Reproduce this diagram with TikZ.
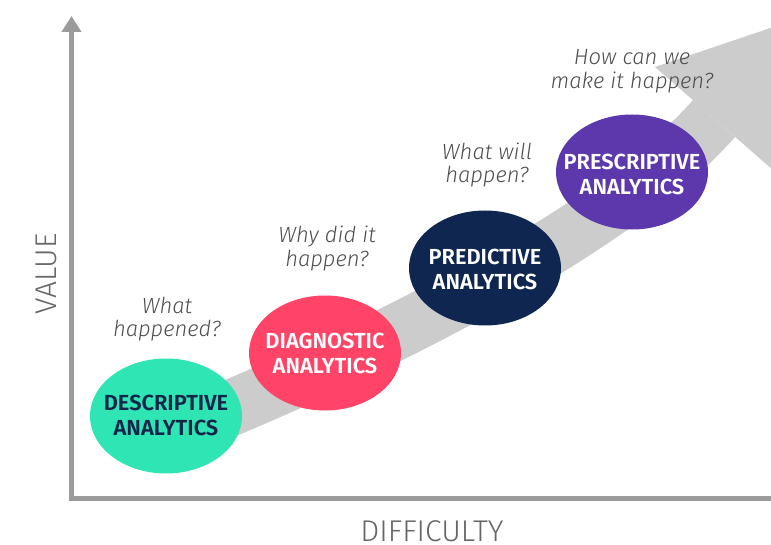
\documentclass[tikz,border=0pt]{standalone}
\usepackage{fontspec}
\setmainfont{Fira Sans}[UprightFont=* Light, ItalicFont=* Light Italic, BoldFont=* SemiBold]
\usetikzlibrary{shapes.geometric, arrows.meta}

\definecolor{axisgray}{HTML}{9B9B9B}
\definecolor{bandgray}{HTML}{CCCCCC}
\definecolor{labelgray}{HTML}{666666}
\definecolor{askgray}{HTML}{4D4D4D}
\definecolor{mint}{HTML}{2EE5B3}
\definecolor{rose}{HTML}{FF4467}
\definecolor{navy}{HTML}{0E2650}
\definecolor{violet}{HTML}{5C38AC}
\definecolor{inknavy}{HTML}{13244B}

\tikzset{
  axisline/.style={draw=axisgray, line width=5pt, line join=miter,
    -{Triangle[width=19pt,length=16pt]}},
  axislabel/.style={font=\fontsize{30}{34}\selectfont, text=labelgray, inner sep=0pt},
  band/.style={draw=bandgray, line width=56pt, line cap=butt},
  blob/.style={ellipse, minimum width=152pt, minimum height=115pt, inner sep=0pt, draw=none},
  stage/.style={font=\bfseries\fontsize{21.8}{25}\selectfont, align=center, inner sep=0pt},
  ask/.style={font=\itshape\fontsize{22}{24}\selectfont, text=askgray, inner sep=0pt, anchor=base},
}

\begin{document}
\begin{tikzpicture}[x=1pt, y=-1pt]
\useasboundingbox (0,0) rectangle (771,545);

% axes
\coordinate (xend) at (775,498);
\coordinate (origin) at (71.5,498);
\coordinate (ytip) at (71.5,16);
\draw[axisline] (xend) -- (origin) -- (ytip);

\node[axislabel, rotate=90] (value) at (46,274) {VALUE};
\node[axislabel] (difficulty) at (432,531) {DIFFICULTY};

% rising band with its head
\coordinate (s0) at (190,425);
\coordinate (c1) at (371,351);
\coordinate (c2) at (615.3,231.5);
\coordinate (hb) at (714,118.5);
\coordinate (hl) at (655,67);
\coordinate (htip) at (800,18);
\coordinate (hr) at (773,170);
\draw[band] (s0) .. controls (c1) and (c2) .. (hb);
\fill[bandgray] (hl) -- (htip) -- (hr) -- cycle;

% stages
\node[blob, fill=mint] (desc) at (166,416) {};
\node[stage, text=inknavy] (desctxt) at (166,415) {DESCRIPTIVE\\ANALYTICS};

\node[blob, fill=rose] (diag) at (325,353) {};
\node[stage, text=white] (diagtxt) at (325,353) {DIAGNOSTIC\\ANALYTICS};

\node[blob, fill=navy] (pred) at (485,268) {};
\node[stage, text=white] (predtxt) at (485,269) {PREDICTIVE\\ANALYTICS};

\node[blob, fill=violet] (presc) at (632,172) {};
\node[stage, text=white] (presctxt) at (632,174) {PRESCRIPTIVE\\ANALYTICS};

% questions
\node[ask] (q1a) at (167,313) {What};
\node[ask] (q1b) at (167,337) {happened?};
\node[ask] (q2a) at (327,243) {Why did it};
\node[ask] (q2b) at (327,267) {happen?};
\node[ask] (q3a) at (487,160) {What will};
\node[ask] (q3b) at (487,183) {happen?};
\node[ask] (q4a) at (632,65) {How can we};
\node[ask] (q4b) at (632,89) {make it happen?};
\end{tikzpicture}
\end{document}
